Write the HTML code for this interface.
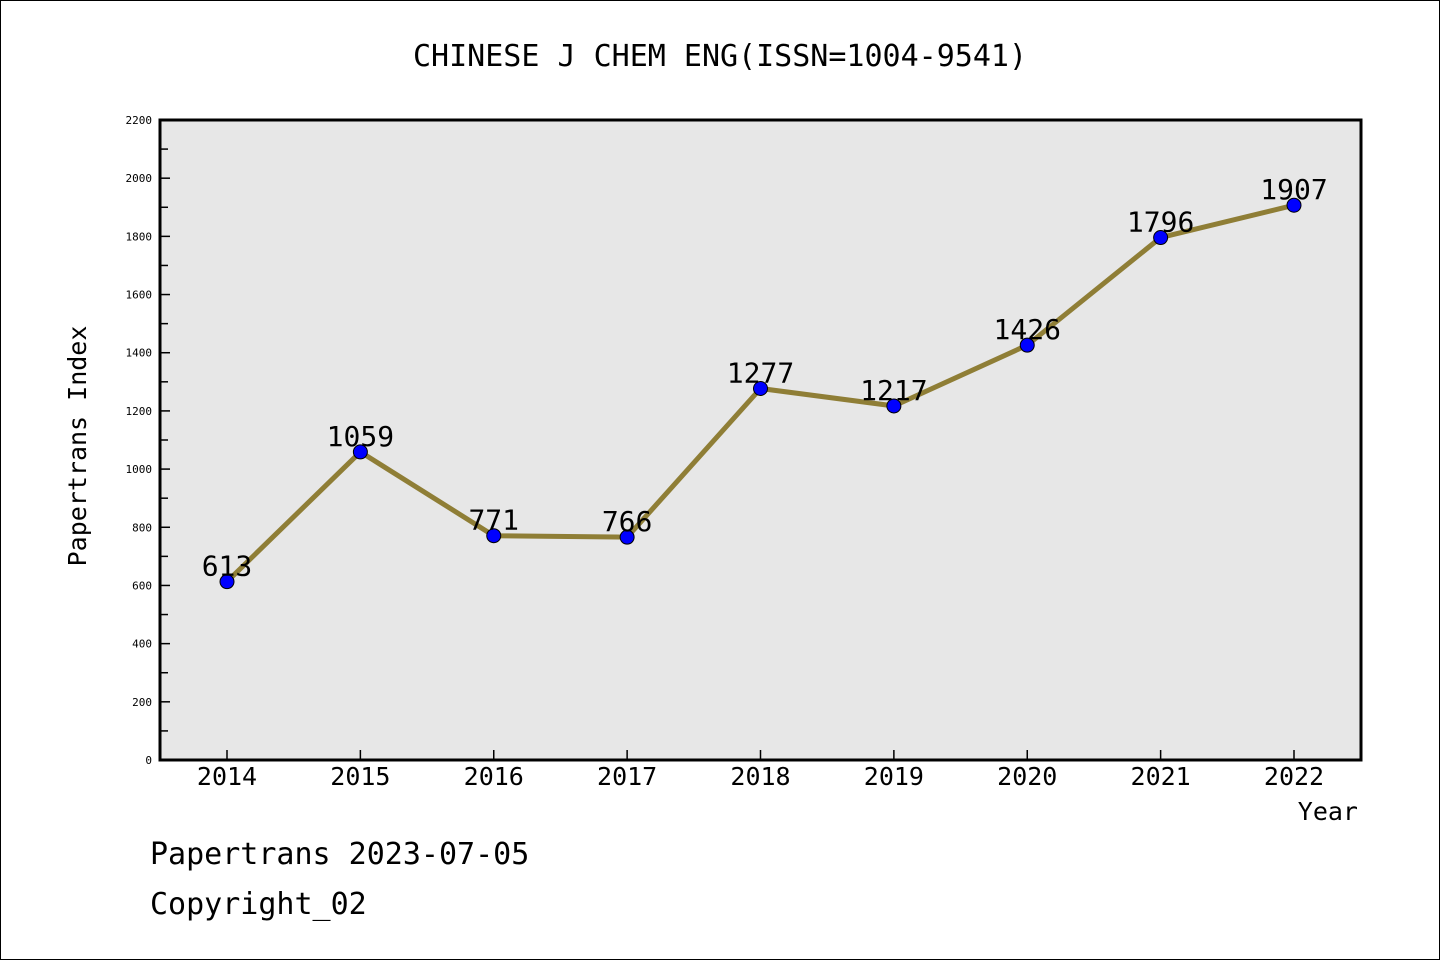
<!DOCTYPE html>
<html><head><meta charset="utf-8"><style>
html,body{margin:0;padding:0;background:#fff}
svg{display:block}
text{font-family:"WenQuanYi Zen Hei","DejaVu Sans Mono",monospace}
</style></head><body>
<svg id="c" width="1440" height="960">
<rect x="0.5" y="0.5" width="1439" height="959" fill="#fff" stroke="#000"/>
<text x="720" y="66" text-anchor="middle" font-size="30">CHINESE J CHEM ENG(ISSN=1004-9541)</text>
<rect x="160" y="120" width="1201" height="640" fill="#e7e7e7"/>
<g id="ticks"></g>
<path d="M160,120 H1361 V760 H160 Z" fill="none" stroke="#000" stroke-width="3"/>
<g id="series"></g>
<text x="86" y="446" text-anchor="middle" font-size="25" transform="rotate(-90 86 446)">Papertrans Index</text>
<text x="1358" y="820" text-anchor="end" font-size="25">Year</text>
<text x="150" y="864" font-size="30">Papertrans 2023-07-05</text>
<text x="150" y="914" font-size="30">Copyright_02</text>
</svg>
<script>
const years=["2014","2015","2016","2017","2018","2019","2020","2021","2022"];
const values=[613,1059,771,766,1277,1217,1426,1796,1907];
const yTicks=[0,200,400,600,800,1000,1200,1400,1600,1800,2000,2200];
const NS="http://www.w3.org/2000/svg";
const x0=227,x1=1294,yMin=0,yMax=2200,plotTop=120,plotBot=760;
const xs=i=>x0+(x1-x0)*i/(years.length-1);
const ys=v=>plotBot-(v-yMin)/(yMax-yMin)*(plotBot-plotTop);
function mk(t,a,p){const e=document.createElementNS(NS,t);for(const k in a)e.setAttribute(k,a[k]);p.appendChild(e);return e;}
const tg=document.getElementById('ticks'),sg=document.getElementById('series');
yTicks.forEach((v,i)=>{
  const y=ys(v);
  const l=mk('line',{x1:160,x2:170,y1:y,y2:y,stroke:'#000','stroke-width':1.5},tg);
  
  
  const t=mk('text',{x:152,y:y+4,'text-anchor':'end','font-size':11},tg);
  t.textContent=v;
  
  
  if(i<yTicks.length-1){const ym=ys(v+(yTicks[1]-yTicks[0])/2);
    const m=mk('line',{x1:160,x2:168,y1:ym,y2:ym,stroke:'#000','stroke-width':1.5},tg);
    
    }
});
years.forEach((yr,i)=>{
  const x=xs(i);
  const l=mk('line',{x1:x,x2:x,y1:760,y2:750,stroke:'#000','stroke-width':1.5},tg);
  
  
  const t=mk('text',{x:x,y:785,'text-anchor':'middle','font-size':25},tg);
  t.textContent=yr;
  
  
});
const pl=mk('polyline',{points:values.map((v,i)=>xs(i)+','+ys(v)).join(' '),fill:'none',stroke:'#8f7e36','stroke-width':5},sg);


values.forEach((v,i)=>{
  const c=mk('circle',{cx:xs(i),cy:ys(v),r:7,fill:'#0000ff',stroke:'#000','stroke-width':1},sg);
  
  
  const t=mk('text',{x:xs(i),y:ys(v)-6,'text-anchor':'middle','font-size':28},sg);
  t.textContent=v;
  
  
});
</script>
</body></html>
